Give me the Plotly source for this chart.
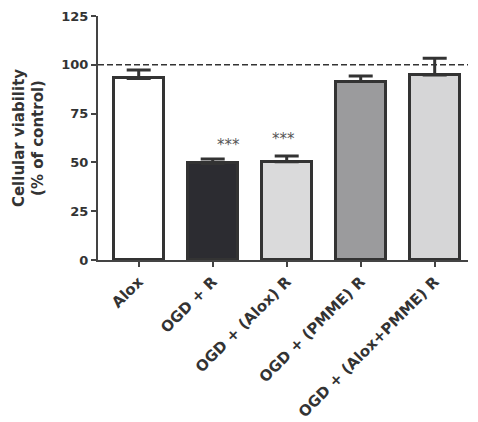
import plotly.graph_objects as go

categories = ["Alox", "OGD + R", "OGD + (Alox) R", "OGD + (PMME) R", "OGD + (Alox+PMME) R"]
means = [93.0, 49.5, 50.3, 91.4, 94.8]
sem_up = [4.3, 2.2, 3.0, 2.9, 8.5]
bar_colors = ["#ffffff", "#2c2c31", "#dadadb", "#9b9b9d", "#d6d6d7"]
stars = ["", "***", "***", "", ""]
star_y = [None, 59, 62, None, None]
y_ticks = [0, 25, 50, 75, 100, 125]
ref_line = 100

x = list(range(len(categories)))
FONT = "DejaVu Sans"

fig = go.Figure()
fig.add_trace(go.Bar(
    x=x, y=means, width=0.68,
    marker=dict(color=bar_colors, line=dict(color="#333333", width=3)),
    error_y=dict(type="data", array=sem_up, arrayminus=[0]*len(means), symmetric=False,
                 color="#333333", thickness=3, width=12),
    showlegend=False,
))

fig.add_shape(type="line", xref="x", yref="y", x0=-0.55, x1=4.45, y0=ref_line, y1=ref_line,
              line=dict(color="#333333", width=1.5, dash="6px,3px"))

for i, s in enumerate(stars):
    if s:
        fig.add_annotation(x=i + (0.22 if i == 1 else -0.05), y=star_y[i], text=s, showarrow=False,
                           font=dict(size=15, color="#555555", family=FONT))

fig.update_layout(
    width=478, height=422,
    margin=dict(l=98, r=10, t=16, b=162),
    paper_bgcolor="white", plot_bgcolor="white",
    font=dict(family=FONT, color="#333333", size=13),
    bargap=0,
)
fig.update_xaxes(
    tickmode="array", tickvals=x, ticktext=categories, tickangle=-45,
    range=[-0.55, 4.45], showline=True, linecolor="#444444", linewidth=2,
    ticks="outside", ticklen=5, tickwidth=2, tickcolor="#444444", automargin=False,
    tickfont=dict(size=15, weight="bold", color="#333333", family=FONT), showgrid=False, zeroline=False,
)
fig.update_yaxes(
    range=[0, 125], tickvals=y_ticks, showline=True, linecolor="#444444", linewidth=2,
    ticks="outside", ticklen=5, tickwidth=2, tickcolor="#444444", automargin=False,
    tickfont=dict(size=13, weight="bold", color="#333333", family=FONT), showgrid=False, zeroline=False,
    title=dict(text="Cellular viability<br>(% of control)", font=dict(size=15, weight="bold", color="#333333", family=FONT), standoff=14),
)

fig.write_html("out.html")
